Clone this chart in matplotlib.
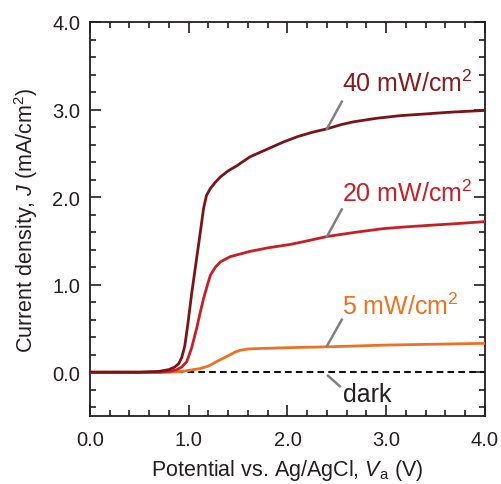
import numpy as np
import matplotlib
matplotlib.use("Agg")
import matplotlib.pyplot as plt
from matplotlib.ticker import MultipleLocator, FormatStrFormatter

plt.rcParams['font.family'] = ['Liberation Sans', 'DejaVu Sans']
plt.rcParams['mathtext.fontset'] = 'custom'
plt.rcParams['mathtext.rm'] = 'Liberation Sans'
plt.rcParams['mathtext.it'] = 'Liberation Sans:italic'

# 40 mW/cm2
v40 = [0.0, 0.5, 0.70, 0.80, 0.86, 0.90, 0.93, 0.96, 0.99, 1.03, 1.08, 1.12, 1.15, 1.18,
       1.22, 1.27, 1.32, 1.40, 1.49, 1.62, 1.72, 1.82, 1.96, 2.10, 2.25, 2.40, 2.55,
       2.67, 2.90, 3.14, 3.40, 3.65, 4.0]
j40 = [0.0, 0.0, 0.01, 0.03, 0.06, 0.10, 0.17, 0.30, 0.54, 0.90, 1.30, 1.62, 1.87, 2.02,
       2.10, 2.17, 2.23, 2.30, 2.36, 2.46, 2.51, 2.56, 2.63, 2.69, 2.74, 2.78, 2.83,
       2.86, 2.90, 2.93, 2.95, 2.97, 2.99]

# 20 mW/cm2
v20 = [0.0, 0.7, 0.81, 0.88, 0.93, 0.98, 1.03, 1.08, 1.12, 1.15, 1.19, 1.22, 1.27, 1.32,
       1.42, 1.52, 1.62, 1.80, 2.03, 2.20, 2.40, 2.70, 2.97, 3.20, 3.47, 3.75, 4.0]
j20 = [0.0, 0.0, 0.01, 0.03, 0.06, 0.12, 0.28, 0.50, 0.70, 0.84, 1.00, 1.11, 1.20, 1.26,
       1.32, 1.35, 1.38, 1.42, 1.46, 1.50, 1.55, 1.60, 1.64, 1.66, 1.68, 1.70, 1.72]

# 5 mW/cm2
v5 = [0.0, 0.8, 0.94, 1.05, 1.11, 1.20, 1.28, 1.35, 1.42, 1.47, 1.52, 1.60, 1.69, 2.0,
      2.4, 3.0, 3.5, 4.0]
j5 = [0.0, 0.0, 0.01, 0.03, 0.04, 0.07, 0.12, 0.16, 0.20, 0.23, 0.25, 0.265, 0.27, 0.28,
      0.29, 0.31, 0.32, 0.33]

# dark
v_dark = [0.0, 4.0]
j_dark = [0.0, 0.0]

fig = plt.figure(figsize=(5.01, 4.85), dpi=100)
ax = fig.add_axes([0.1796, 0.1402, 0.7884, 0.8124])

ax.plot(v_dark, j_dark, color='#111111', lw=1.5, ls=(0, (3.2, 2.0)), zorder=2)
ax.plot(v5, j5, color='#f07022', lw=2.0, zorder=3)
ax.plot(v20, j20, color='#c81e28', lw=2.0, zorder=4)
ax.plot(v40, j40, color='#7a1418', lw=2.0, zorder=5)

# labels with grey leader lines
labels = [
    ('40 mW/cm$^2$', '#8b1a1e', (2.40, 2.78), (2.55, 3.09), (2.55, 3.30)),
    ('20 mW/cm$^2$', '#c81e28', (2.40, 1.55), (2.55, 1.86), (2.55, 2.05)),
    ('5 mW/cm$^2$', '#f07022', (2.40, 0.30), (2.55, 0.60), (2.55, 0.76)),
    ('dark', '#231f20', (2.41, -0.04), (2.53, -0.16), (2.56, -0.25)),
]
for txt, col, p0, p1, pt in labels:
    ax.plot([p0[0], p1[0]], [p0[1], p1[1]], color='#808080', lw=1.8, zorder=6)
    ax.text(pt[0], pt[1], txt, color=col, fontsize=18, va='center', ha='left')

ax.set_xlim(0, 4.0)
ax.set_ylim(-0.5, 4.0)
ax.xaxis.set_major_locator(MultipleLocator(1.0))
ax.xaxis.set_minor_locator(MultipleLocator(0.2))
ax.yaxis.set_major_locator(MultipleLocator(1.0))
ax.yaxis.set_minor_locator(MultipleLocator(0.2))
ax.xaxis.set_major_formatter(FormatStrFormatter('%.1f'))
ax.yaxis.set_major_formatter(FormatStrFormatter('%.1f'))

ax.tick_params(which='both', direction='in', top=True, right=True, width=1.2,
               color='#231f20', labelcolor='#231f20', labelsize=14.5)
ax.tick_params(which='major', length=8)
ax.tick_params(which='minor', length=4.5)
ax.tick_params(axis='x', pad=10)
ax.tick_params(axis='y', pad=7)
for s in ax.spines.values():
    s.set_linewidth(1.3)
    s.set_color('#231f20')

ax.set_xlabel('Potential vs. Ag/AgCl, $V_\\mathrm{a}$ (V)', fontsize=15.5, color='#231f20', labelpad=6)
ax.set_ylabel('Current density, $J$ (mA/cm$^2$)', fontsize=15.5, color='#231f20', labelpad=9)

fig.savefig('out.png', dpi=100)
